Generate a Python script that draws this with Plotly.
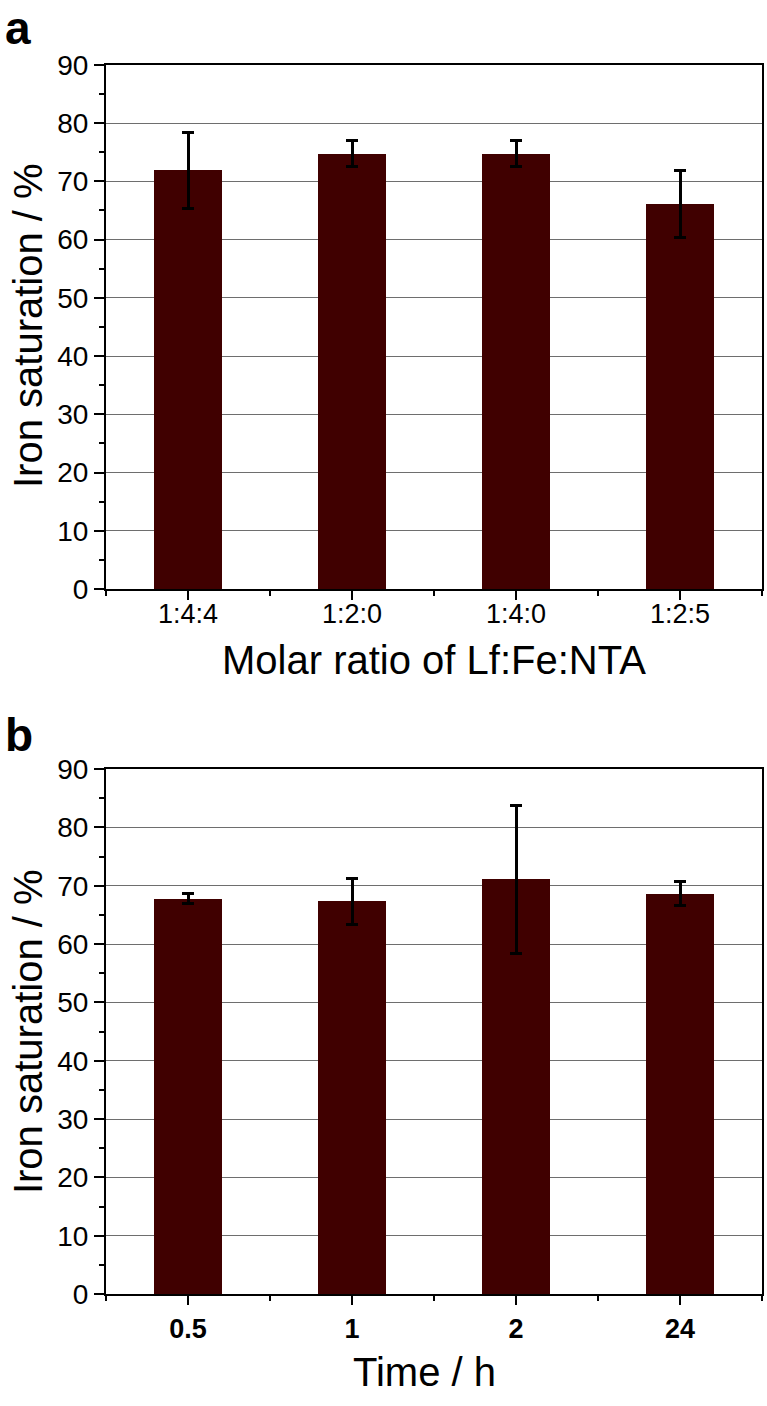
import plotly.graph_objects as go

# Panel a data
cats_a = ["1:4:4", "1:2:0", "1:4:0", "1:2:5"]
vals_a = [71.9, 74.8, 74.8, 66.1]
errs_a = [6.5, 2.3, 2.3, 5.7]

# Panel b data
cats_b = ["0.5", "1", "2", "24"]
vals_b = [67.8, 67.3, 71.1, 68.6]
errs_b = [0.8, 3.9, 12.7, 2.05]

yticks = [0, 10, 20, 30, 40, 50, 60, 70, 80, 90]

W, H = 767, 1406
FONT = "Liberation Sans, Arial, sans-serif"
BAR = "#400000"

fig = go.Figure()

pos = [0, 1, 2, 3]

fig.add_trace(go.Bar(
    x=pos, y=vals_a, width=0.41, marker=dict(color=BAR, line=dict(width=0)),
    error_y=dict(type="data", array=errs_a, color="black", thickness=3, width=6),
    xaxis="x", yaxis="y", showlegend=False))
fig.add_trace(go.Bar(
    x=pos, y=vals_b, width=0.41, marker=dict(color=BAR, line=dict(width=0)),
    error_y=dict(type="data", array=errs_b, color="black", thickness=3, width=6),
    xaxis="x2", yaxis="y2", showlegend=False))

def px_x(p):
    return p / W

def px_y(p):
    return 1 - p / H

xdom = [px_x(106), px_x(762)]

xcommon = dict(
    range=[-0.5, 3.5], tickmode="array", tickvals=pos,
    ticks="outside", ticklen=9, tickwidth=2, tickcolor="black",
    showline=True, linecolor="black", linewidth=2, mirror=True,
    showgrid=False, zeroline=False, domain=xdom,
    minor=dict(tickvals=[-0.5, 0.5, 1.5, 2.5, 3.5], ticks="outside",
               ticklen=5, tickwidth=2, tickcolor="black", showgrid=False),
)
ycommon = dict(
    range=[0, 90], tickmode="array", tickvals=yticks,
    ticks="outside", ticklen=10, tickwidth=2, tickcolor="black",
    showline=True, linecolor="black", linewidth=2, mirror=True,
    showgrid=True, gridcolor="#6e6e6e", gridwidth=1, zeroline=False,
    tickfont=dict(family=FONT, size=28, color="black"),
    minor=dict(dtick=5, tick0=0, ticks="outside", ticklen=5, tickwidth=2,
               tickcolor="black", showgrid=False),
)

fig.update_layout(
    width=W, height=H,
    margin=dict(l=0, r=0, t=0, b=0),
    paper_bgcolor="white", plot_bgcolor="white",
    bargap=0,
    xaxis=dict(**xcommon, ticktext=cats_a, anchor="y", ticklabelstandoff=-9,
               tickfont=dict(family=FONT, size=27, color="black")),
    yaxis=dict(**ycommon, domain=[px_y(587), px_y(51)], anchor="x"),
    xaxis2=dict(**xcommon, ticktext=[f"<b>{c}</b>" for c in cats_b], anchor="y2",
                tickfont=dict(family=FONT, size=27, color="black")),
    yaxis2=dict(**ycommon, domain=[px_y(1308), px_y(771)], anchor="x2"),
)

def ann(text, x, y, size, bold=False, angle=0, xanchor="center", yanchor="middle"):
    fig.add_annotation(
        text=f"<b>{text}</b>" if bold else text,
        x=px_x(x), y=px_y(y), xref="paper", yref="paper",
        showarrow=False, textangle=angle, xanchor=xanchor, yanchor=yanchor,
        font=dict(family=FONT, size=size, color="black"))

ann("a", 3, 13, 46, bold=True, xanchor="left")
ann("b", 3, 736, 46, bold=True, xanchor="left")
ann("Iron saturation / %", 28, 318, 40, angle=-90)
ann("Iron saturation / %", 28, 1040, 40, angle=-90)
ann("Molar ratio of Lf:Fe:NTA", 434, 660, 40)
ann("Time / h", 424, 1388, 40)

fig.write_html(
    "out.html",
    config={"displayModeBar": False},
    post_script=(
        "var d=document.getElementById('{plot_id}');"
        "d.style.position='fixed';d.style.left='0px';d.style.top='0px';"
        "document.body.style.margin='0';document.body.style.overflow='hidden';"
    ),
)
